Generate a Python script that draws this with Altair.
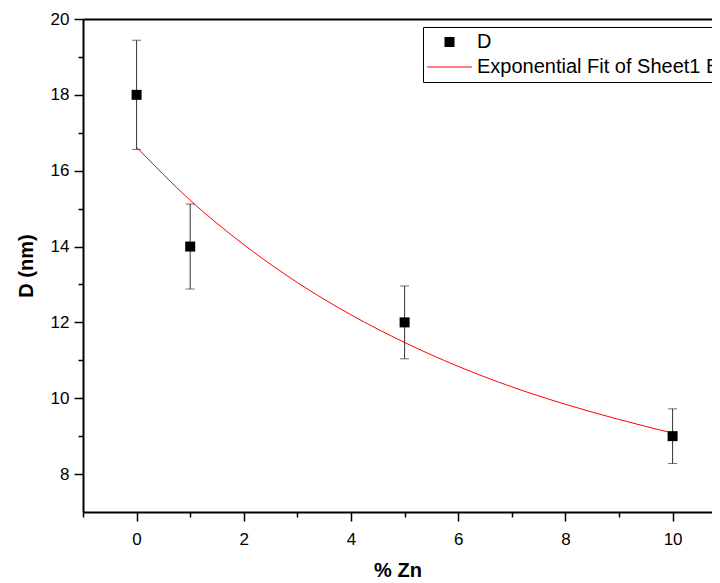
import altair as alt
import pandas as pd

# ---- data ----
zn = [0, 1, 5, 10]
d_nm = [18.0, 14.0, 12.0, 9.0]
d_err = [1.44, 1.12, 0.96, 0.72]

fit_x = [0, 1, 2, 3, 4, 5, 6, 7, 8, 9, 10]
fit_y = [16.62, 15.22, 14.05, 13.05, 12.20, 11.47, 10.84, 10.30, 9.84, 9.44, 9.08]

series_names = ["D", "Exponential Fit of Sheet1 B"]
series_colors = ["#000000", "#ff0000"]
series_shapes = ["M-0.5,-0.5H0.5V0.5H-0.5Z", "M-2.25,-0.05H2.25V0.05H-2.25Z"]

x_major = [0, 2, 4, 6, 8, 10]
x_minor = [-1, 1, 3, 5, 7, 9]
y_major = [8, 10, 12, 14, 16, 18, 20]
y_minor = [9, 11, 13, 15, 17, 19]

pts = pd.DataFrame({
    "zn": zn,
    "d": d_nm,
    "lo": [v - e for v, e in zip(d_nm, d_err)],
    "hi": [v + e for v, e in zip(d_nm, d_err)],
    "series": [series_names[0]] * len(zn),
})
fit = pd.DataFrame({"zn": fit_x, "d": fit_y})

FONT = "Liberation Sans"
# the visible window cuts the plot just short of x = 11
xscale = alt.Scale(domain=[-1, 10.735], nice=False, zero=False)
yscale = alt.Scale(domain=[7, 20], nice=False, zero=False)

major_x_axis = alt.Axis(values=x_major, title="% Zn", orient="bottom", tickSize=9,
                        labelPadding=10, titlePadding=13)
major_y_axis = alt.Axis(values=y_major, title="D (nm)", orient="left", tickSize=9,
                        labelPadding=5, titlePadding=14)
minor_x_axis = alt.Axis(values=x_minor, title=None, orient="bottom", tickSize=5,
                        labels=False, domain=False)
minor_y_axis = alt.Axis(values=y_minor, title=None, orient="left", tickSize=5,
                        labels=False, domain=False)
top_axis = alt.Axis(values=x_major, title=None, orient="top", tickSize=0,
                    labels=False, ticks=False, domain=True)

fit_line = alt.Chart(fit).mark_line(color="#ff0000", strokeWidth=1, interpolate="monotone").encode(
    x=alt.X("zn:Q", scale=xscale, axis=None),
    y=alt.Y("d:Q", scale=yscale, axis=None),
)

err_rule = alt.Chart(pts).mark_rule(color="#333333", strokeWidth=1).encode(
    x=alt.X("zn:Q", scale=xscale, axis=minor_x_axis),
    y=alt.Y("lo:Q", scale=yscale, axis=minor_y_axis),
    y2="hi:Q",
)

cap_lo = alt.Chart(pts).mark_tick(color="#333333", orient="horizontal", size=9, thickness=1).encode(
    x=alt.X("zn:Q", scale=xscale, axis=top_axis),
    y=alt.Y("lo:Q", scale=yscale, axis=None),
)
cap_hi = alt.Chart(pts).mark_tick(color="#333333", orient="horizontal", size=9, thickness=1).encode(
    x=alt.X("zn:Q", scale=xscale, axis=None),
    y=alt.Y("hi:Q", scale=yscale, axis=None),
)

legend = alt.Legend(
    title=None, orient="none", legendX=340, legendY=8, direction="vertical",
    padding=5, symbolOffset=11.5, labelOffset=17.5, rowPadding=5,
    labelFont=FONT, labelFontSize=20, labelColor="black", labelLimit=500,
    fillColor="white", strokeColor="black", cornerRadius=0,
    symbolSize=400, symbolOpacity=1, symbolStrokeWidth=0,
)

points = alt.Chart(pts).mark_point(filled=True, size=400, opacity=1, strokeWidth=0).encode(
    x=alt.X("zn:Q", scale=xscale, axis=major_x_axis),
    y=alt.Y("d:Q", scale=yscale, axis=major_y_axis),
    color=alt.Color("series:N", scale=alt.Scale(domain=series_names, range=series_colors), legend=legend),
    shape=alt.Shape("series:N", scale=alt.Scale(domain=series_names, range=series_shapes), legend=legend),
)

chart = alt.layer(fit_line, err_rule, cap_lo, cap_hi, points).resolve_axis(
    x="independent", y="independent"
).properties(
    width=629, height=493,
    autosize=alt.AutoSizeParams(type="none"),
    padding={"left": 75, "top": 11, "right": 0, "bottom": 69},
    background="white",
).configure_view(
    strokeWidth=0
).configure_axis(
    grid=False, domainColor="black", domainWidth=2, tickColor="black", tickWidth=1.5,
    labelFont=FONT, labelFontSize=17, labelColor="black",
    titleFont=FONT, titleFontSize=20, titleFontWeight="bold", titleColor="black",
)

chart.save("out.html", embed_options={"renderer": "svg", "actions": False})
